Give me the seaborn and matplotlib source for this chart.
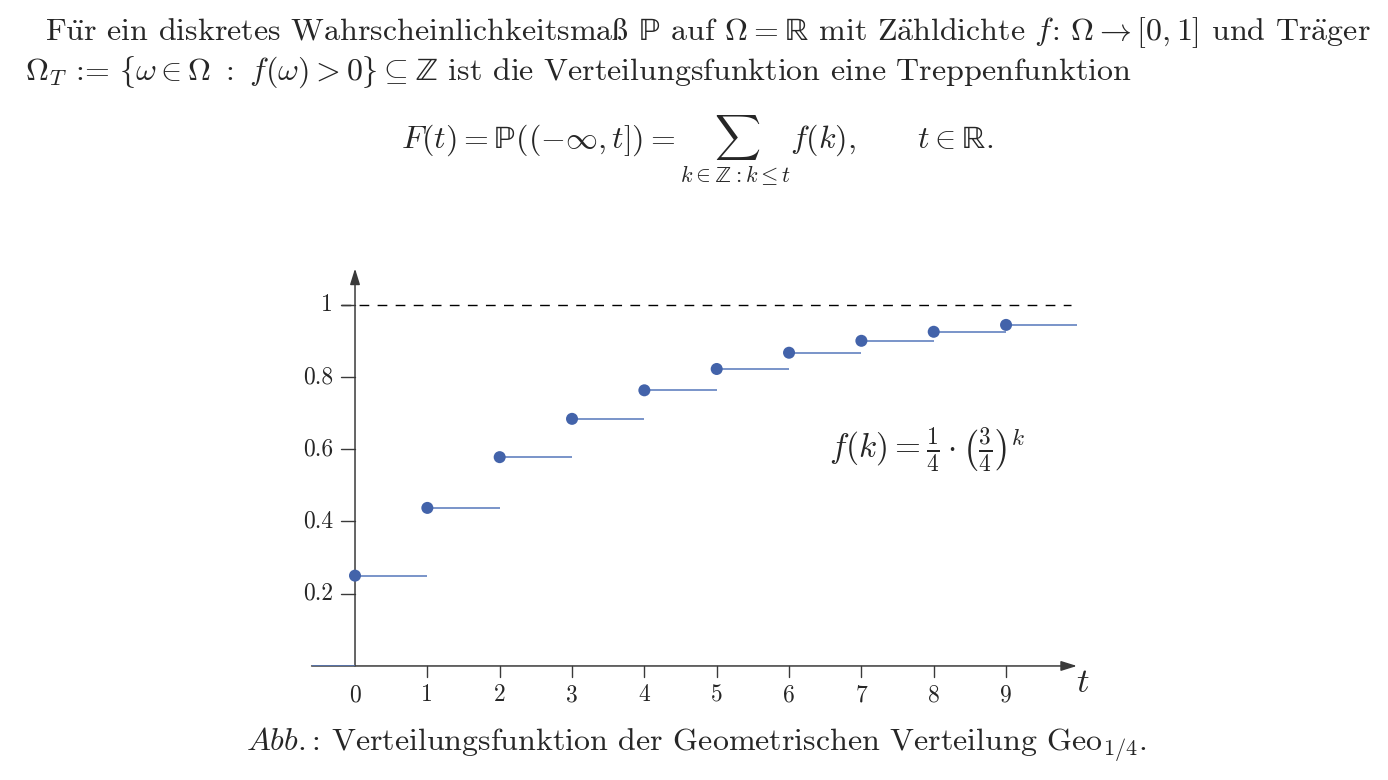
import numpy as np
import matplotlib
matplotlib.use("Agg")
import matplotlib.pyplot as plt
import seaborn as sns
import pandas as pd
from matplotlib.mathtext import MathTextParser

# data
k_values = [0, 1, 2, 3, 4, 5, 6, 7, 8, 9]
F_values = [0.25, 0.4375, 0.578, 0.684, 0.763, 0.822, 0.867, 0.900, 0.925, 0.944]
x_ticks = [0, 1, 2, 3, 4, 5, 6, 7, 8, 9]
x_ticklabels = ["0", "1", "2", "3", "4", "5", "6", "7", "8", "9"]
y_ticks = [0.2, 0.4, 0.6, 0.8, 1.0]
y_ticklabels = ["0.2", "0.4", "0.6", "0.8", "1"]
x_start = -0.6
x_end = 9.98

sns.set_theme(style="white")
plt.rcParams["font.family"] = ["cmr10", "DejaVu Serif"]
plt.rcParams["mathtext.fontset"] = "cm"
plt.rcParams["axes.unicode_minus"] = False

# umlauts / eszett via mathtext (cmr10 lacks them in text mode)
UE = r"$\ddot{\mathrm{u}}$"
AE = r"$\ddot{\mathrm{a}}$"
try:
    MathTextParser("path").parse(r"$\mathrm{\ss}$")
    SS = r"$\mathrm{\ss}$"
except Exception:
    SS = r"$\mathrm{ß}$"

fig = plt.figure(figsize=(13.88, 7.8), dpi=100)
ax = fig.add_axes([0.2245, 0.1462, 0.5514, 0.5095])
ax.set_xlim(x_start, x_end)
ax.set_ylim(0, 1.1)

blue_line = "#5577BB"
blue_dot = "#4363AA"
df = pd.DataFrame({"k": k_values, "F": F_values})
starts = k_values
ends = k_values[1:] + [x_end]
ax.hlines(F_values, starts, ends, color=blue_line, lw=1.1, zorder=2)
ax.hlines(0, x_start, 0, color=blue_line, lw=1.1, zorder=3)
sns.scatterplot(data=df, x="k", y="F", ax=ax, color=blue_dot, s=75,
                edgecolor="none", zorder=4, legend=False)

# dashed line at 1
ax.hlines(1.0, -0.19, 9.9, color="black", lw=1.0, linestyles=(0, (7, 6)), zorder=1)

for s in ax.spines.values():
    s.set_visible(False)
ax.set_xlabel("")
ax.set_ylabel("")
ax.set_xticks([])
ax.set_yticks([])

axis_col = "#3a3a3a"
arrow_style = "-|>,head_length=0.8,head_width=0.25"
ax.annotate("", xy=(x_end, 0), xytext=(x_start, 0), annotation_clip=False,
            arrowprops=dict(arrowstyle=arrow_style, color=axis_col, lw=1.1,
                            shrinkA=0, shrinkB=0), zorder=2)
ax.annotate("", xy=(0, 1.1), xytext=(0, 0), annotation_clip=False,
            arrowprops=dict(arrowstyle=arrow_style, color=axis_col, lw=1.1,
                            shrinkA=0, shrinkB=0), zorder=2)

# ticks
for xt, lab in zip(x_ticks, x_ticklabels):
    if xt != 0:
        ax.plot([xt, xt], [0, -0.03], color=axis_col, lw=1.0, clip_on=False)
    ax.text(xt, -0.05, lab, ha="center", va="top", fontsize=17)
for yt, lab in zip(y_ticks, y_ticklabels):
    ax.plot([-0.19, 0], [yt, yt], color=axis_col, lw=1.0, clip_on=False)
    ax.text(-0.3, yt, lab, ha="right", va="center", fontsize=17)

ax.text(9.97, -0.005, r"$t$", ha="left", va="top", fontsize=25)
ax.text(6.55, 0.6, r"$f(k) = \frac{1}{4}\cdot\left(\frac{3}{4}\right)^{k}$",
        ha="left", va="center", fontsize=24)

# surrounding text
fs = 23
fig.text(45 / 1388, 1 - 33 / 780,
         "F" + UE + "r ein diskretes Wahrscheinlichkeitsma" + SS
         + r" $\mathrm{ℙ}$ auf $\Omega = \mathrm{ℝ}$ mit Z" + AE
         + r"hldichte $f\!:\,\Omega \to [0,1]$ und Tr" + AE + "ger",
         ha="left", va="center", fontsize=fs)
fig.text(25 / 1388, 1 - 72 / 780,
         r"$\Omega_T$ := $\lbrace\omega \in \Omega\ :\ f(\omega) > 0\rbrace \subseteq \mathrm{ℤ}$ ist die Verteilungsfunktion eine Treppenfunktion",
         ha="left", va="center", fontsize=fs)
fig.text(697 / 1388, 1 - 150 / 780,
         r"$F(t) = \mathrm{ℙ}((-\infty,t]) = \sum_{k\in\mathrm{ℤ}:k\leq t} f(k),\qquad t\in\mathrm{ℝ}.$",
         ha="center", va="center", fontsize=fs)
fig.text(697 / 1388, 1 - 745 / 780,
         r"$\mathit{Abb.}$: Verteilungsfunktion der Geometrischen Verteilung Geo$_{1/4}$.",
         ha="center", va="center", fontsize=fs)

fig.savefig("out.png", dpi=100)
